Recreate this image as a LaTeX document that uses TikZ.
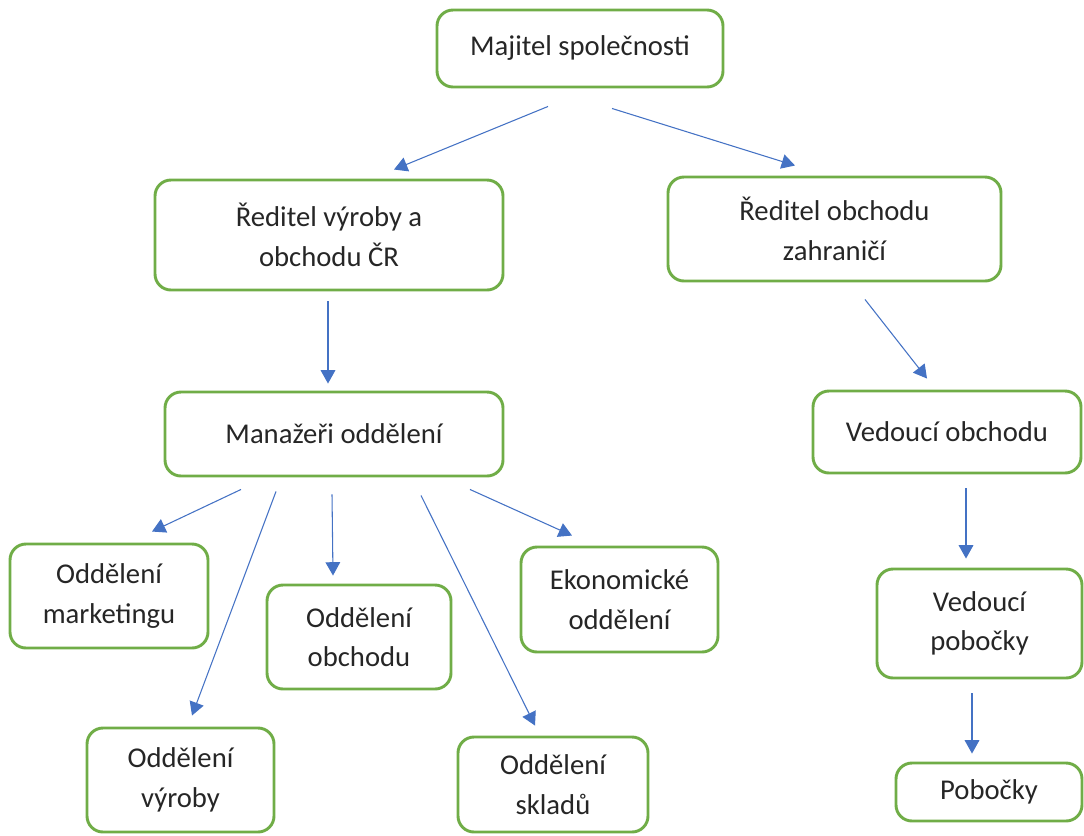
\documentclass[tikz,border=0pt]{standalone}
\usepackage{fontspec}
\setmainfont{Carlito}
\usepackage{xcolor}
\usepackage{tikz}
\usetikzlibrary{arrows.meta,calc}
\definecolor{Ink}{HTML}{262626}
\definecolor{BoxGreen}{HTML}{70AD47}
\definecolor{ArrBlue}{HTML}{4472C4}

\begin{document}
\begin{tikzpicture}[
  x=0.75pt,y=-0.75pt,
  box/.style={draw=BoxGreen,line width=2.2pt,rounded corners=12pt,align=center,
    font=\fontsize{21.5}{29.5}\selectfont,text=Ink,inner sep=0pt},
  sz/.style 2 args={minimum width=#1*0.75pt,minimum height=#2*0.75pt},
  arr/.style={-{Triangle[length=10pt,width=11pt]},line width=0.8pt,color=ArrBlue}]
\useasboundingbox (0,0) rectangle (1084,835);
\node[box,sz={286}{77}] (maj) at (580,48.5) {Majitel společnosti};
\node[box,sz={348}{110}] (r1) at (329,235) {Ředitel výroby a\\obchodu ČR};
\node[box,sz={333}{104}] (r2) at (834.5,229) {Ředitel obchodu\\zahraničí};
\node[box,sz={338}{84}] (man) at (334,434) {Manažeři oddělení};
\node[box,sz={268}{82}] (ved) at (947,432) {Vedoucí obchodu};
\node[box,sz={198}{104}] (mkt) at (109,596) {Oddělení\\marketingu};
\node[box,sz={187}{104}] (vyr) at (180.5,780) {Oddělení\\výroby};
\node[box,sz={184}{104}] (obch) at (359,637) {Oddělení\\obchodu};
\node[box,sz={190}{95}] (skl) at (553,784.5) {Oddělení\\skladů};
\node[box,sz={197}{105}] (eko) at (619.5,599.5) {Ekonomické\\oddělení};
\node[box,sz={205}{109}] (vp) at (979.5,623.5) {Vedoucí\\pobočky};
\node[box,sz={186}{58}] (pob) at (989,792) {Pobočky};
\foreach \a/\ax/\ay/\b/\bx/\by in {maj/-32/18/r1/65/-9, maj/32/20/r2/-39.5/-10,
    r1/-1/10/man/-6/-7, r2/30.5/17/ved/-20/-11,
    man/-93/12/mkt/43/-11, man/-58/14/vyr/11.5/-11, man/-2/17/obch/-26/-8,
    man/87/18/skl/-18/-10, man/136/12/eko/-47.5/-10,
    ved/19/14/vp/-13.5/-9, vp/-7.5/14/pob/-17/-8}
  \draw[arr] ($(\a.south)+(\ax,\ay)$) -- ($(\b.north)+(\bx,\by)$);
\end{tikzpicture}
\end{document}
